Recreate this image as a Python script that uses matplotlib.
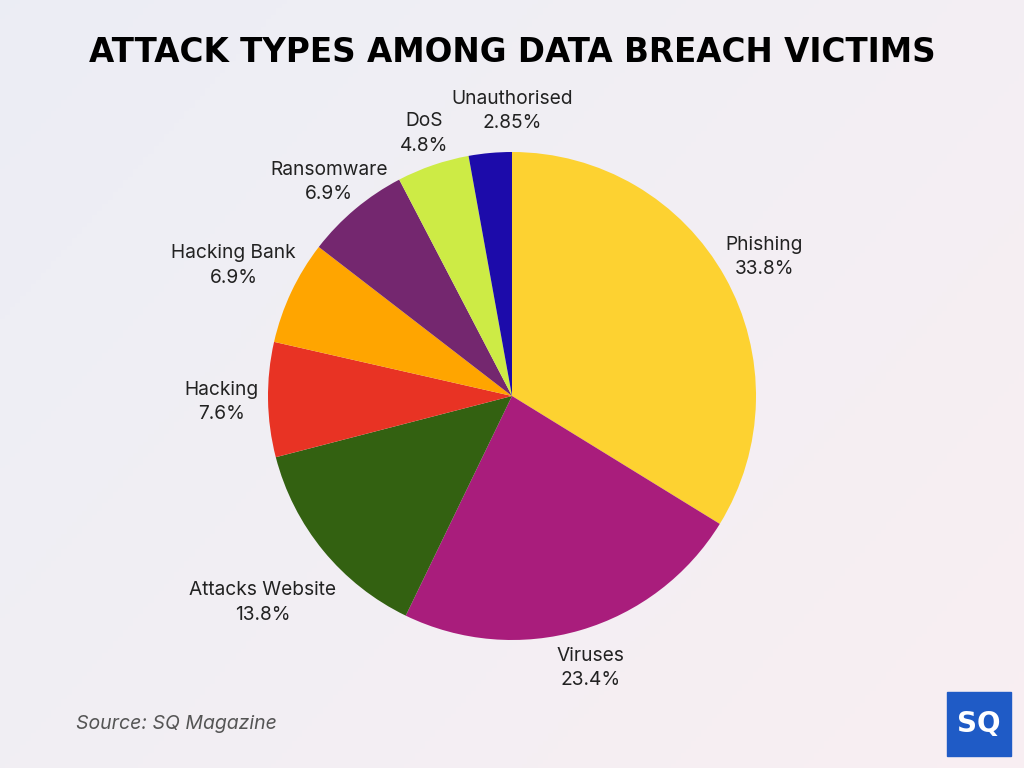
import numpy as np
import matplotlib.pyplot as plt
from matplotlib.patches import Rectangle

# data
labels = ['Phishing', 'Viruses', 'Attacks Website', 'Hacking',
          'Hacking Bank', 'Ransomware', 'DoS', 'Unauthorised']
values = [33.8, 23.4, 13.8, 7.6, 6.9, 6.9, 4.8, 2.85]
pct_text = ['33.8%', '23.4%', '13.8%', '7.6%', '6.9%', '6.9%', '4.8%', '2.85%']
colors = ['#FDD231', '#A91D7C', '#336111', '#E83324',
          '#FFA500', '#74276F', '#CDEB45', '#1C0BAA']

# label placement tweaks (radius in pie units, angle shift in degrees)
label_dist = [1.18, 1.16, 1.327, 1.19, 1.26, 1.154, 1.135, 1.168]
label_shift = [-0.4, -0.1, 0.3, 0.3, 0.1, 0.5, -0.3, -5.2]

fig = plt.figure(figsize=(10.24, 7.68), dpi=100)

# soft background gradient
bg = fig.add_axes([0, 0, 1, 1])
bg.axis('off')
xx, yy = np.meshgrid(np.linspace(0, 1, 200), np.linspace(0, 1, 200))
c1 = np.array([0.925, 0.933, 0.960])
c2 = np.array([0.975, 0.935, 0.950])
t = np.clip(0.6 * xx + 0.4 * yy, 0, 1)[..., None]
img = c1 * (1 - t) + c2 * t
bg.imshow(img, extent=[0, 1, 0, 1], aspect='auto', origin='upper')
bg.set_xlim(0, 1)
bg.set_ylim(0, 1)

# pie
size = 244 * 2 * 1.5
ax = fig.add_axes([0.5 - size / 1024 / 2, (1 - 396 / 768) - size / 768 / 2,
                   size / 1024, size / 768])
wedges, _ = ax.pie(values, colors=colors, startangle=90, counterclock=False)
for w, lab, pct, d, s in zip(wedges, labels, pct_text, label_dist, label_shift):
    ang = np.deg2rad((w.theta1 + w.theta2) / 2 + s)
    ax.text(d * np.cos(ang), d * np.sin(ang), f'{lab}\n{pct}', ha='center', va='center',
            fontsize=13.8, color='#222222', family='Inter', linespacing=1.45)
ax.set_xlim(-1.5, 1.5)
ax.set_ylim(-1.5, 1.5)
ax.set_aspect('equal')
ax.axis('off')

fig.text(0.5, 0.931, 'ATTACK TYPES AMONG DATA BREACH VICTIMS', ha='center', va='center',
         fontsize=23.5, fontweight='heavy', family='DejaVu Sans', color='black')
fig.text(0.074, 0.057, 'Source: SQ Magazine', ha='left', va='center',
         fontsize=14, style='italic', family='Inter', color='#555555')

# logo
bg.add_patch(Rectangle((947 / 1024, 12 / 768), 64 / 1024, 64 / 768,
                       color='#1F5BC6', transform=bg.transAxes))
bg.text(979 / 1024, 44 / 768, 'SQ', ha='center', va='center', color='white',
        fontsize=20, fontweight='bold', family='DejaVu Sans')

fig.savefig('out.png', dpi=100)
